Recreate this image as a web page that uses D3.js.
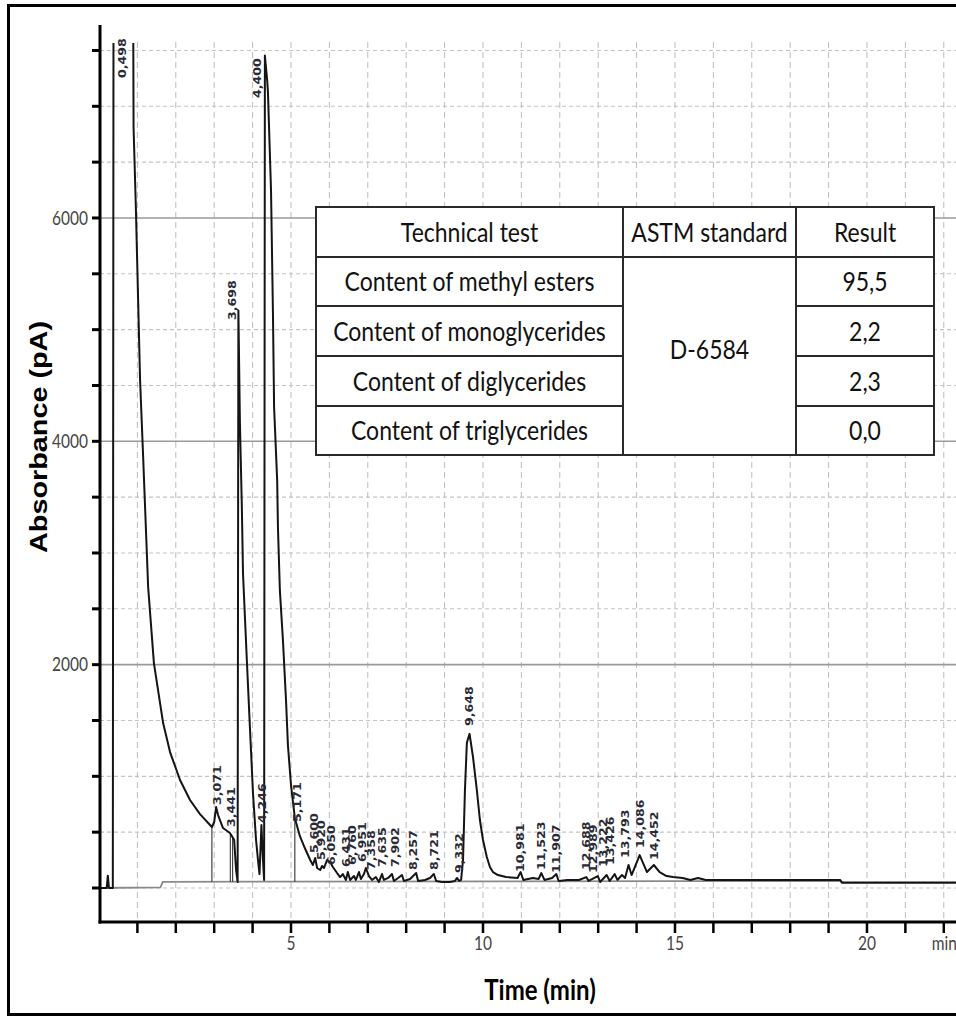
<!DOCTYPE html>
<html>
<head>
<meta charset="utf-8">
<script src="https://cdn.jsdelivr.net/npm/d3@7"></script>
<style>
  body { margin: 0; background: #fff; }
  svg { display: block; }
</style>
</head>
<body>
<svg id="chart" width="956" height="1019"></svg>
<script>
// detector trace: [time (min), signal (pA)]
const trace = [
  [0, 0], [0.20, 0], [0.23, 110], [0.26, 0], [0.36, 0], [0.38, 9000], [0.88, 9000], [0.90, 6810],
  [0.96, 6094], [1.07, 4546], [1.15, 3857], [1.28, 2694], [1.43, 2014], [1.67, 1477], [1.85, 1217],
  [2.11, 967], [2.37, 788], [2.63, 662], [2.94, 546], [3.00, 591], [3.05, 725], [3.10, 653], [3.23, 537],
  [3.41, 492], [3.46, 466], [3.52, 430], [3.57, 161], [3.61, 54], [3.63, 5172], [3.67, 4161], [3.72, 3410],
  [3.75, 2819], [3.85, 2040], [3.93, 1441], [4.01, 850], [4.09, 430], [4.14, 251], [4.18, 125], [4.23, 564],
  [4.27, 251], [4.30, 72], [4.32, 7454], [4.38, 7231], [4.40, 7123], [4.48, 6246], [4.53, 5146], [4.56, 4304],
  [4.64, 3651], [4.66, 3231], [4.71, 2667], [4.79, 2220], [4.87, 1684], [4.92, 1280], [5.00, 922], [5.10, 627],
  [5.23, 466], [5.36, 358], [5.50, 251], [5.57, 206], [5.63, 269], [5.68, 179], [5.76, 161], [5.81, 197],
  [5.86, 179], [5.94, 251], [6.02, 233], [6.09, 188], [6.20, 134], [6.28, 98], [6.35, 125], [6.43, 72],
  [6.48, 143], [6.54, 72], [6.64, 107], [6.69, 72], [6.77, 143], [6.82, 81], [6.90, 125], [6.95, 179],
  [7.03, 107], [7.11, 72], [7.21, 98], [7.29, 54], [7.37, 125], [7.42, 72], [7.53, 90], [7.63, 125],
  [7.68, 63], [7.79, 90], [7.89, 116], [7.94, 63], [8.10, 81], [8.26, 134], [8.31, 63], [8.49, 72],
  [8.62, 90], [8.72, 125], [8.78, 63], [8.93, 54], [9.14, 54], [9.27, 63], [9.32, 90], [9.38, 63],
  [9.43, 72], [9.48, 251], [9.53, 877], [9.58, 1300], [9.65, 1380], [9.74, 1172], [9.84, 877], [9.92, 609],
  [10.00, 430], [10.10, 277], [10.18, 188], [10.26, 143], [10.39, 116], [10.60, 98], [10.90, 90], [10.98, 143],
  [11.05, 72], [11.30, 90], [11.45, 81], [11.52, 134], [11.60, 72], [11.80, 90], [11.91, 125], [11.97, 63],
  [12.20, 72], [12.50, 72], [12.69, 98], [12.75, 63], [12.99, 107], [13.05, 54], [13.22, 116], [13.30, 63],
  [13.43, 125], [13.50, 72], [13.62, 116], [13.70, 90], [13.79, 206], [13.87, 116], [14.08, 295], [14.27, 143],
  [14.45, 206], [14.60, 143], [14.78, 107], [14.95, 98], [15.20, 90], [15.40, 72], [15.60, 90], [15.80, 72],
  [19.30, 72], [19.35, 50], [22.40, 50]
];

// integration baseline under the trace
const baseline = [[0, 0], [1.60, 5], [1.66, 55], [15.0, 62], [19.30, 62], [19.35, 45], [22.40, 45]];

// retention times printed over the peaks, and the signal level where each label starts
const peakTimes = [0.498, 3.071, 3.441, 3.698, 4.246, 4.400, 5.171, 5.600, 5.920, 6.050, 6.431, 6.760,
  6.951, 7.358, 7.635, 7.902, 8.257, 8.721, 9.332, 9.648, 10.981, 11.523, 11.907, 12.688, 12.989,
  13.222, 13.426, 13.793, 14.086, 14.452];
const labelBase = [7254, 743, 546, 5086, 582, 7074, 591, 313, 251, 206, 188, 206,
  233, 161, 188, 188, 161, 161, 134, 1450, 143, 161, 134, 161, 134,
  188, 206, 269, 358, 251];

// peak boundary markers
const dropTimes = [2.94, 3.42, 3.48, 5.10];

const yTicks = d3.range(0, 7501, 500);
const yLabelTicks = [2000, 4000, 6000];
const xTicks = d3.range(1, 23);
const xLabelTicks = [5, 10, 15, 20];

const tableHeader = ["Technical test", "ASTM standard", "Result"];
const tableTests = ["Content of methyl esters", "Content of monoglycerides", "Content of diglycerides", "Content of triglycerides"];
const tableStandard = "D-6584";
const tableResults = ["95,5", "2,2", "2,3", "0,0"];

// label nudges where the instrument moved a label off its peak (px)
const labelNudge = { "0.498": 4, "3.698": -9, "4.400": -11, "5.920": -5, "6.760": -6, "6.951": -4,
  "7.358": -10, "7.635": -10, "7.902": -7, "8.257": -3, "9.332": 2, "12.989": -5, "13.222": -4,
  "13.426": -4, "13.793": -3 };

let svg = d3.select("#chart");
const STRETCH = 1.2; // the source figure is stretched vertically

let x = d3.scaleLinear().domain([0, 22.3]).range([99, 955.3]);
let y = d3.scaleLinear().domain([0, 7728]).range([888, 25]);
const axisY = 922;

function stext(parent, px, py, txt, rot) {
  return parent.append("text")
    .attr("transform", `translate(${px},${py}) scale(1,${STRETCH})` + (rot ? " rotate(-90)" : ""))
    .text(txt);
}

// outer frame
svg.append("rect").attr("x", 8.5).attr("y", 5.5).attr("width", 970).attr("height", 1009)
  .attr("fill", "#fff").attr("stroke", "#000").attr("stroke-width", 3);

// grid
let grid = svg.append("g");
grid.selectAll("line.v").data(xTicks).enter().append("line")
  .attr("x1", d => x(d)).attr("x2", d => x(d)).attr("y1", 42).attr("y2", axisY - 2)
  .attr("stroke", "#bdbdbd").attr("stroke-width", 1).attr("stroke-dasharray", "6,4");
grid.selectAll("line.h").data(yTicks).enter().append("line")
  .attr("x1", 100).attr("x2", 956).attr("y1", d => y(d)).attr("y2", d => y(d))
  .attr("stroke", d => d % 2000 === 0 && d > 0 ? "#9a9a9a" : "#c4c4c4")
  .attr("stroke-width", d => d % 2000 === 0 && d > 0 ? 1.6 : 1.1)
  .attr("stroke-dasharray", d => d % 2000 === 0 && d > 0 ? null : "4,3");

// clip for the trace
svg.append("clipPath").attr("id", "clip").append("rect")
  .attr("x", 99).attr("y", y(7567)).attr("width", 860).attr("height", axisY - y(7567));

let plot = svg.append("g").attr("clip-path", "url(#clip)");

let line = d3.line().x(d => x(d[0])).y(d => y(d[1]));

plot.append("path").datum(baseline).attr("d", line)
  .attr("fill", "none").attr("stroke", "#8a8a8a").attr("stroke-width", 1.8);

// drop lines from baseline to the trace
function interp(data, t) {
  let i = d3.bisector(d => d[0]).left(data, t);
  if (i <= 0) return data[0][1];
  if (i >= data.length) return data[data.length - 1][1];
  let a = data[i - 1], b = data[i];
  return a[1] + (b[1] - a[1]) * (t - a[0]) / (b[0] - a[0]);
}
plot.selectAll("line.drop").data(dropTimes).enter().append("line")
  .attr("x1", d => x(d)).attr("x2", d => x(d))
  .attr("y1", d => y(interp(baseline, d))).attr("y2", d => y(interp(trace, d)))
  .attr("stroke", "#333").attr("stroke-width", 1.1);

plot.append("path").datum(trace).attr("d", line)
  .attr("fill", "none").attr("stroke", "#141414").attr("stroke-width", 2)
  .attr("stroke-linejoin", "round");

// peak labels
let labels = svg.append("g").attr("font-family", "DejaVu Sans").attr("font-size", 10.5)
  .attr("font-weight", "bold").attr("fill", "#2a2a36");
peakTimes.forEach((t, i) => {
  let key = t.toFixed(3);
  let px = x(t) + (labelNudge[key] || 0);
  stext(labels, px, y(labelBase[i]), key.replace(".", ","), true)
    .attr("dy", "0.36em").attr("text-anchor", "start");
});

// axes
svg.append("line").attr("x1", 100).attr("x2", 100).attr("y1", 25).attr("y2", axisY + 1.5)
  .attr("stroke", "#000").attr("stroke-width", 3);
svg.append("line").attr("x1", 98.5).attr("x2", 956).attr("y1", axisY).attr("y2", axisY)
  .attr("stroke", "#000").attr("stroke-width", 3);

svg.selectAll("line.ytick").data(yTicks).enter().append("line")
  .attr("x1", 92).attr("x2", 100).attr("y1", d => y(d)).attr("y2", d => y(d))
  .attr("stroke", "#000").attr("stroke-width", 3);
svg.selectAll("line.xtick").data(xTicks).enter().append("line")
  .attr("x1", d => x(d)).attr("x2", d => x(d)).attr("y1", axisY).attr("y2", axisY + 11)
  .attr("stroke", "#000").attr("stroke-width", 2.5);

let tickText = svg.append("g").attr("font-family", "Lato").attr("font-size", 15.5).attr("fill", "#444");
yLabelTicks.forEach(d => {
  stext(tickText, 88, y(d), d, false).attr("text-anchor", "end").attr("dy", "0.36em");
});
xLabelTicks.forEach(d => {
  stext(tickText, x(d), axisY + 28, d, false).attr("text-anchor", "middle");
});
stext(tickText, x(22), axisY + 28, "min", false).attr("text-anchor", "start").attr("dx", -12);

// axis titles
stext(svg, 47, 437, "Absorbance (pA)", true)
  .attr("text-anchor", "middle").attr("font-family", "Liberation Sans").attr("font-weight", "bold")
  .attr("font-size", 24).attr("fill", "#000");
stext(svg, 540, 1000, "Time (min)", false)
  .attr("text-anchor", "middle").attr("font-family", "Lato").attr("font-weight", "bold")
  .attr("font-size", 24).attr("fill", "#000");

// results table
const tx = 316, ty = 207;
const colW = [307, 173, 138];
const rowH = [50, 49, 50, 50, 49];
let colX = [tx, tx + colW[0], tx + colW[0] + colW[1], tx + d3.sum(colW)];
let rowY = [ty];
rowH.forEach((h, i) => rowY.push(rowY[i] + h));

let tbl = svg.append("g");
tbl.append("rect").attr("x", colX[0]).attr("y", rowY[0]).attr("width", colX[3] - colX[0])
  .attr("height", rowY[5] - rowY[0]).attr("fill", "#fff").attr("stroke", "#2a2a2a").attr("stroke-width", 2);
[colX[1], colX[2]].forEach(cx => {
  tbl.append("line").attr("x1", cx).attr("x2", cx).attr("y1", rowY[0]).attr("y2", rowY[5])
    .attr("stroke", "#2a2a2a").attr("stroke-width", 2);
});
tbl.append("line").attr("x1", colX[0]).attr("x2", colX[3]).attr("y1", rowY[1]).attr("y2", rowY[1])
  .attr("stroke", "#2a2a2a").attr("stroke-width", 2);
[rowY[2], rowY[3], rowY[4]].forEach(ry => {
  tbl.append("line").attr("x1", colX[0]).attr("x2", colX[1]).attr("y1", ry).attr("y2", ry)
    .attr("stroke", "#2a2a2a").attr("stroke-width", 2);
  tbl.append("line").attr("x1", colX[2]).attr("x2", colX[3]).attr("y1", ry).attr("y2", ry)
    .attr("stroke", "#2a2a2a").attr("stroke-width", 2);
});

let cellText = tbl.append("g").attr("font-family", "Lato").attr("font-size", 23).attr("fill", "#111")
  .attr("text-anchor", "middle");
let mid = i => (colX[i] + colX[i + 1]) / 2;
let rmid = i => (rowY[i] + rowY[i + 1]) / 2;
tableHeader.forEach((h, i) => stext(cellText, mid(i), rmid(0), h, false).attr("dy", "0.36em"));
tableTests.forEach((t, i) => stext(cellText, mid(0), rmid(i + 1), t, false).attr("dy", "0.36em"));
tableResults.forEach((r, i) => stext(cellText, mid(2), rmid(i + 1), r, false).attr("dy", "0.36em"));
stext(cellText, mid(1), (rowY[1] + rowY[5]) / 2 - 7, tableStandard, false).attr("dy", "0.36em");
</script>
</body>
</html>
